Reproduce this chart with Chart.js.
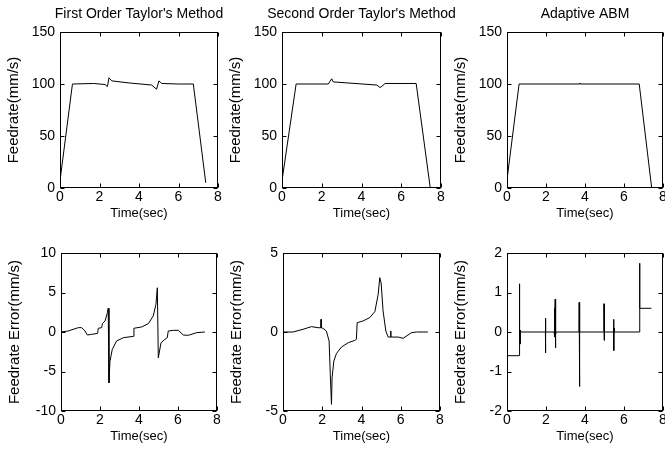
<!DOCTYPE html>
<html>
<head>
<meta charset="utf-8">
<script src="https://cdn.jsdelivr.net/npm/chart.js@4.4.1/dist/chart.umd.min.js"></script>
<style>
  html, body { margin: 0; padding: 0; background: #fff; overflow: hidden; }
  body { width: 665px; height: 452px; position: relative; }
  canvas { position: absolute; }
</style>
</head>
<body>
<canvas id="c1" width="244" height="222" style="left:0px;top:0px"></canvas>
<canvas id="c2" width="245" height="222" style="left:222px;top:0px"></canvas>
<canvas id="c3" width="222" height="222" style="left:447px;top:0px"></canvas>
<canvas id="c4" width="222" height="205" style="left:1px;top:240px"></canvas>
<canvas id="c5" width="223" height="205" style="left:223px;top:240px"></canvas>
<canvas id="c6" width="222" height="205" style="left:447px;top:240px"></canvas>
<script>
// titles and tick labels
const plotTitles = ["First Order Taylor's Method", "Second Order Taylor's Method", "Adaptive ABM"];
const timeTicks = [0, 2, 4, 6, 8];
const feedTicks = [0, 50, 100, 150];
const errTicksFirst = [-10, -5, 0, 5, 10];
const errTicksSecond = [-5, 0, 5];
const errTicksAbm = [-2, -1, 0, 1, 2];

// feedrate (mm/s)
const tFeedFirst = [0, 0.63, 1.7, 2.28, 2.40, 2.48, 2.62, 3.5, 4.64, 4.89, 5.01, 5.15, 6.0, 6.75, 7.38];
const feedFirst = [7, 100, 100.5, 99.5, 97.5, 106, 103, 101, 99, 95, 103, 100.5, 100, 100, 5];

const tFeedSecond = [0, 0.71, 2.33, 2.50, 2.58, 4.77, 4.94, 5.19, 6.75, 7.46];
const feedSecond = [7, 100, 100, 105, 102, 99, 96.5, 100.5, 100.5, 0];

const tFeedAbm = [0, 0.62, 3.72, 3.74, 3.76, 6.78, 7.42];
const feedAbm = [8, 100, 100, 101, 100, 100, 0];

// feedrate error (mm/s)
const tErrFirst = [0, 0.37, 0.89, 1.06, 1.23, 1.35, 1.57, 1.88, 1.91, 2.09, 2.12, 2.26, 2.38, 2.42, 2.46, 2.51, 2.63, 2.85, 3.2, 3.71, 3.74, 4.14, 4.48, 4.73, 4.87, 4.94, 4.99, 5.13, 5.33, 5.45, 5.5, 5.76, 6.02, 6.27, 6.53, 6.96, 7.38];
const errFirst = [0, 0.13, 0.55, 0.55, 0.13, -0.38, -0.3, -0.17, 0.47, 0.55, 1.06, 1.4, 2.46, 3.0, -6.44, -3.7, -2.2, -1.14, -0.72, -0.55, 0.47, 0.64, 1.06, 2.03, 3.5, 5.6, -3.26, -1.36, -0.93, -0.72, 0.13, 0.21, 0.21, -0.38, -0.42, -0.08, 0];

const tErrSecond = [0, 0.51, 1.02, 1.45, 1.79, 1.93, 1.94, 1.95, 2.04, 2.21, 2.35, 2.41, 2.47, 2.5, 2.59, 2.72, 2.98, 3.32, 3.66, 3.74, 3.78, 4.08, 4.42, 4.68, 4.85, 4.93, 5.0, 5.1, 5.24, 5.36, 5.48, 5.49, 5.5, 5.87, 6.12, 6.55, 6.8, 7.38];
const errSecond = [0, 0, 0.17, 0.34, 0.27, 0.27, 0.8, 0.27, 0.23, 0.06, -0.57, -2.68, -4.58, -2.9, -1.84, -1.37, -0.95, -0.68, -0.53, -0.46, 0.59, 0.70, 0.91, 1.29, 2.38, 3.44, 3.1, 1.33, 0.06, -0.32, -0.32, 0.06, -0.32, -0.32, -0.4, -0.04, 0, 0];

const tErrAbm = [0, 0.63, 0.635, 0.64, 0.66, 0.67, 0.68, 0.69, 0.70, 1.97, 1.975, 1.98, 1.985, 2.42, 2.43, 2.44, 2.45, 2.46, 2.47, 2.48, 2.49, 2.51, 2.52, 3.69, 3.70, 3.71, 3.72, 3.73, 3.74, 4.96, 4.97, 4.98, 4.99, 5.0, 5.01, 5.46, 5.47, 5.48, 5.49, 5.5, 6.80, 6.805, 6.81, 7.4];
const errAbm = [-0.6, -0.6, 1.22, 0, 0.07, -0.3, 0.05, -0.25, 0, 0, 0.35, -0.53, 0, 0, 0.6, -0.13, 0.55, -0.1, 0.83, -0.4, 0.05, -0.05, 0, 0, 0.75, -1.38, 0.65, -0.3, 0, 0, 0.72, -0.21, 0.7, -0.2, 0, 0, 0.32, -0.47, 0.1, 0, 0, 1.74, 0.6, 0.6];

const FONT = "'Liberation Sans', Arial, Helvetica, sans-serif";

// matlab style frame with inward ticks on all four sides
const boxPlugin = {
    id: 'matlabBox',
    afterLayout(chart) {
        // title sits over the box but may run wider than it
        const tb = chart.titleBlock;
        if (tb) {
            tb.left = chart.chartArea.left - 60;
            tb.right = chart.chartArea.right + 60;
            tb.width = tb.right - tb.left;
        }
    },
    afterDraw(chart) {
        const { ctx, chartArea: a, scales: { x, y } } = chart;
        const l = Math.round(a.left) + 0.5, r = Math.round(a.right) - 0.5;
        const t = Math.round(a.top) + 0.5, b = Math.round(a.bottom) - 0.5;
        ctx.save();
        ctx.strokeStyle = '#000';
        ctx.lineWidth = 1;
        ctx.strokeRect(l, t, r - l, b - t);
        ctx.beginPath();
        x.ticks.forEach(tk => {
            const px = Math.round(x.getPixelForValue(tk.value)) + 0.5;
            ctx.moveTo(px, b); ctx.lineTo(px, b - 4);
            ctx.moveTo(px, t); ctx.lineTo(px, t + 4);
        });
        y.ticks.forEach(tk => {
            const py = Math.round(y.getPixelForValue(tk.value)) + 0.5;
            ctx.moveTo(l, py); ctx.lineTo(l + 4, py);
            ctx.moveTo(r, py); ctx.lineTo(r - 4, py);
        });
        ctx.stroke();
        ctx.restore();
    }
};

function makeChart(id, xs, ys, yTicks, yLabel, title, rightPad) {
    return new Chart(document.getElementById(id), {
        type: 'scatter',
        data: {
            datasets: [{
                data: xs.map((t, i) => ({ x: t, y: ys[i] })),
                showLine: true,
                borderColor: '#000',
                borderWidth: 1,
                pointRadius: 0,
                tension: 0
            }]
        },
        options: {
            responsive: false,
            animation: false,
            events: [],
            layout: { padding: { top: title ? 0 : 13, right: rightPad || 6, bottom: 0, left: 0 } },
            plugins: {
                legend: { display: false },
                tooltip: { enabled: false },
                title: {
                    display: !!title,
                    text: title || '',
                    fullSize: false,
                    color: '#000',
                    font: { family: FONT, size: 14, weight: 'normal', lineHeight: 1 },
                    padding: { top: 7, bottom: 11 }
                }
            },
            scales: {
                x: {
                    type: 'linear',
                    min: timeTicks[0],
                    max: timeTicks[timeTicks.length - 1],
                    afterBuildTicks: s => { s.ticks = timeTicks.map(v => ({ value: v })); },
                    afterFit: s => { s.height = 34; },
                    grid: { display: false, drawTicks: false },
                    border: { display: false },
                    ticks: { color: '#000', padding: 2, maxRotation: 0, font: { family: FONT, size: 14, lineHeight: 1 } },
                    title: {
                        display: true, text: 'Time(sec)', color: '#000',
                        font: { family: FONT, size: 13, lineHeight: 1 },
                        padding: { top: 0, bottom: 2 }
                    }
                },
                y: {
                    min: yTicks[0],
                    max: yTicks[yTicks.length - 1],
                    afterBuildTicks: s => { s.ticks = yTicks.map(v => ({ value: v })); },
                    afterFit: s => { s.width = 60; },
                    grid: { display: false, drawTicks: false },
                    border: { display: false },
                    ticks: { color: '#000', padding: 5, font: { family: FONT, size: 14, lineHeight: 1 } },
                    title: {
                        display: true, text: yLabel, color: '#000',
                        font: { family: FONT, size: 15, lineHeight: 1 },
                        padding: { top: 6.5, bottom: 0 }
                    }
                }
            }
        },
        plugins: [boxPlugin]
    });
}

makeChart('c1', tFeedFirst, feedFirst, feedTicks, 'Feedrate(mm/s)', plotTitles[0], 26);
makeChart('c2', tFeedSecond, feedSecond, feedTicks, 'Feedrate(mm/s)', plotTitles[1], 26);
makeChart('c3', tFeedAbm, feedAbm, feedTicks, 'Feedrate(mm/s)', plotTitles[2], 6);
makeChart('c4', tErrFirst, errFirst, errTicksFirst, 'Feedrate Error(mm/s)');
makeChart('c5', tErrSecond, errSecond, errTicksSecond, 'Feedrate Error(mm/s)');
makeChart('c6', tErrAbm, errAbm, errTicksAbm, 'Feedrate Error(mm/s)');
</script>
</body>
</html>
